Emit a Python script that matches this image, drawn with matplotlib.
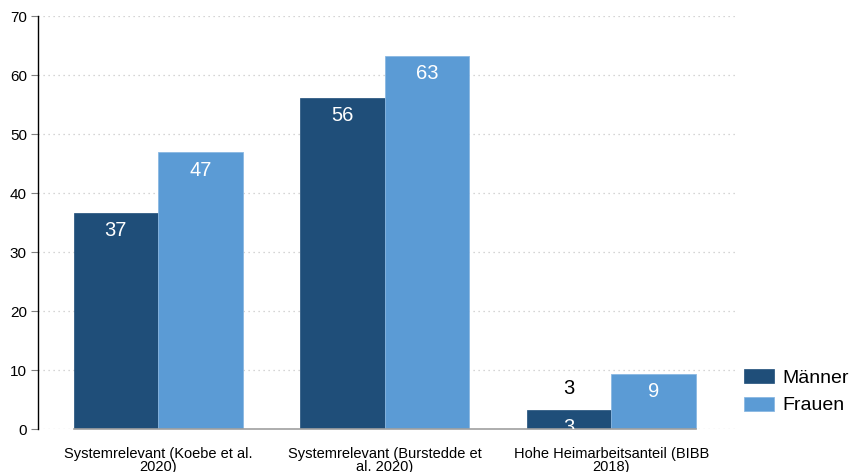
import numpy as np
import matplotlib
matplotlib.use('Agg')
import matplotlib.pyplot as plt

plt.rcParams['font.family'] = ['Liberation Sans', 'DejaVu Sans']

categories = ['Systemrelevant (Koebe et al.\n2020)',
              'Systemrelevant (Burstedde et\nal. 2020)',
              'Hohe Heimarbeitsanteil (BIBB\n2018)']
maenner = [36.6, 56.1, 3.2]
frauen = [46.9, 63.2, 9.3]
series_names = ['Männer', 'Frauen']

dark = '#1f4e79'
light = '#5b9bd5'

fig = plt.figure(figsize=(8.51, 4.72), dpi=100)
ax = fig.add_axes([0.0447, 0.091, 0.82, 0.875])

x = np.arange(len(categories))
w = 0.373
b1 = ax.bar(x - w / 2, maenner, w, color=dark, edgecolor=dark, linewidth=0.5,
            label=series_names[0], zorder=3)
b2 = ax.bar(x + w / 2, frauen, w, color=light, edgecolor='#8ab8e3', linewidth=0.6,
            label=series_names[1], zorder=3)

# baseline under the bars
ax.plot([x[0] - w, x[-1] + w], [0, 0], color='#a0a0a0', lw=1.2, zorder=4,
        clip_on=False)

# value labels inside bars (white), small bar also gets one outside
off = 3.0
for xs, vals in [(x - w / 2, maenner), (x + w / 2, frauen)]:
    for xi, v in zip(xs, vals):
        ax.text(xi, v - off, '%d' % round(v), color='white', fontsize=14.5,
                ha='center', va='center', zorder=5, clip_on=True)
        if v < 5:
            ax.text(xi, v + 3.6, '%d' % round(v), color='black', fontsize=14.5,
                    ha='center', va='center', zorder=5)

ax.set_ylim(0, 70)
ax.set_xlim(-0.53, 2.55)
ax.set_yticks(range(0, 71, 10))
ax.yaxis.grid(True, linestyle=(0, (1, 3)), color='#c8c8c8', lw=0.9, zorder=0)
ax.set_xticks(x)
ax.set_xticklabels(categories, fontsize=10.5, linespacing=0.9)
ax.tick_params(axis='x', length=0, pad=13)
ax.tick_params(axis='y', length=5, width=0.8, color='#808080', labelsize=11, pad=3)

for s in ['top', 'right', 'bottom']:
    ax.spines[s].set_visible(False)
ax.spines['left'].set_color('black')
ax.spines['left'].set_linewidth(1.0)

leg = ax.legend(loc='center left', bbox_to_anchor=(0.995, 0.09), frameon=False,
                fontsize=14, handlelength=1.55, handleheight=0.72, handletextpad=0.42,
                labelspacing=0.5, borderaxespad=0.2)

fig.savefig('out.png', dpi=100, facecolor='white')
